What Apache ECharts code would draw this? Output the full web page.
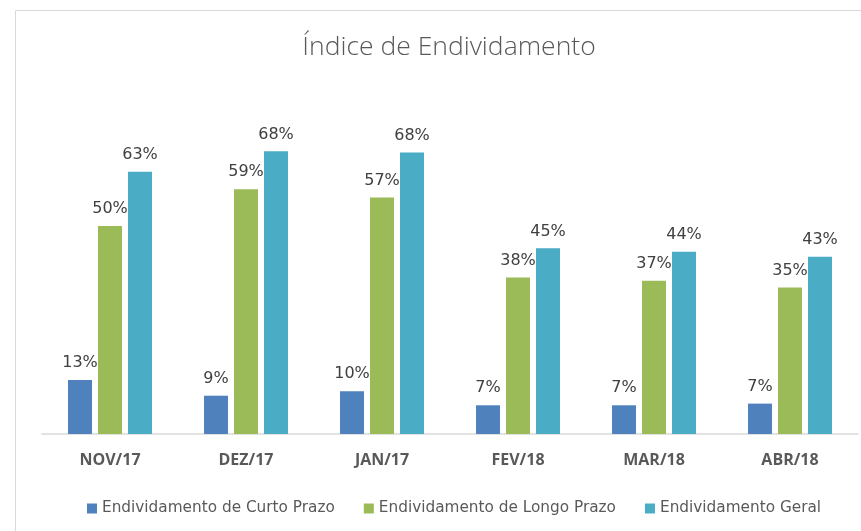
<!DOCTYPE html>
<html>
<head>
<meta charset="utf-8">
<script src="https://cdn.jsdelivr.net/npm/echarts@6/dist/echarts.min.js"></script>
<style>
  html, body { margin: 0; padding: 0; background: #fff; }
  #chart { width: 861px; height: 531px; }
</style>
</head>
<body>
<div id="chart"></div>
<script>
// months shown on the x axis
const categories = ['NOV/17', 'DEZ/17', 'JAN/17', 'FEV/18', 'MAR/18', 'ABR/18'];

// values in percent
const curtoPrazo = [13.0, 9.2, 10.3, 6.9, 6.9, 7.3];
const longoPrazo = [50.0, 58.8, 56.8, 37.6, 36.8, 35.2];
const geral = [63.0, 67.9, 67.6, 44.6, 43.8, 42.6];

const seriesNames = [
  'Endividamento de Curto Prazo',
  'Endividamento de Longo Prazo',
  'Endividamento Geral'
];

const chart = echarts.init(document.getElementById('chart'));

const labelStyle = {
  show: true,
  position: 'top',
  distance: 9,
  fontFamily: 'DejaVu Sans',
  fontSize: 16,
  color: '#404040',
  formatter: (p) => Math.round(p.value) + '%'
};

function barSeries(name, data, color) {
  return {
    name: name,
    type: 'bar',
    data: data,
    barWidth: 24,
    barGap: '25%',
    itemStyle: { color: color },
    label: labelStyle
  };
}

chart.setOption({
  animation: false,
  title: {
    text: 'Índice de Endividamento',
    left: 444,
    top: 29,
    textAlign: 'center',
    textStyle: {
      fontFamily: 'Open Sans',
      fontWeight: 300,
      fontSize: 26.5,
      color: '#595959'
    }
  },
  // chart frame, the right and bottom edges fall outside the picture
  graphic: [{
    type: 'rect',
    shape: { x: 15.5, y: 10.5, width: 900, height: 600 },
    style: { fill: 'none', stroke: '#d9d9d9', lineWidth: 1 },
    silent: true
  }],
  legend: {
    data: seriesNames,
    left: 87,
    top: 501,
    padding: 0,
    icon: 'rect',
    itemWidth: 10,
    itemHeight: 10,
    itemGap: 29,
    textStyle: {
      fontFamily: 'DejaVu Sans',
      fontSize: 15.3,
      color: '#595959'
    }
  },
  grid: { left: 42, right: 3, top: 101, bottom: 97 },
  xAxis: {
    type: 'category',
    data: categories,
    axisLine: { lineStyle: { color: '#d9d9d9', width: 1.5 } },
    axisTick: { show: false },
    axisLabel: {
      margin: 18,
      fontFamily: 'Open Sans',
      fontWeight: 'bold',
      fontSize: 16,
      color: '#595959'
    }
  },
  yAxis: {
    type: 'value',
    min: 0,
    max: 80,
    show: false,
    splitLine: { show: false }
  },
  series: [
    barSeries(seriesNames[0], curtoPrazo, '#4f81bd'),
    barSeries(seriesNames[1], longoPrazo, '#9bbb59'),
    barSeries(seriesNames[2], geral, '#4bacc6')
  ]
});
</script>
</body>
</html>
